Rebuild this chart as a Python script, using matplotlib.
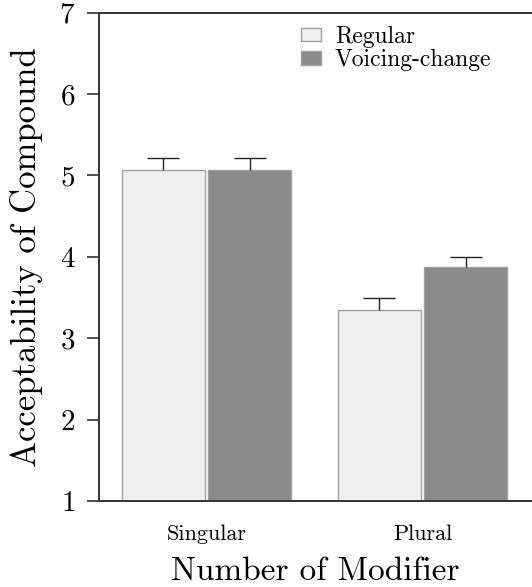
import numpy as np
import matplotlib
matplotlib.use("Agg")
import matplotlib.pyplot as plt

plt.rcParams['font.family'] = 'cmr10'
plt.rcParams['axes.formatter.use_mathtext'] = True

# values
groups = ['Singular', 'Plural']
series = ['Regular', 'Voicing-change']
regular = [5.07, 3.35]
voicing = [5.07, 3.87]
regular_se = [0.14, 0.14]
voicing_se = [0.14, 0.13]
colors = ['#f0f0f0', '#8a8a8a']

fig = plt.figure(figsize=(5.32, 5.87), dpi=100)
ax = fig.add_axes([0.186, 0.1465, 0.814, 0.832])

x = np.arange(len(groups))
w = 0.384
off = 0.2
for vals, errs, col, lab, sgn in [(regular, regular_se, colors[0], series[0], -1),
                                  (voicing, voicing_se, colors[1], series[1], 1)]:
    ax.bar(x + sgn * off, np.array(vals) - 1, width=w, bottom=1, color=col,
           edgecolor='#a0a0a0', linewidth=1.0, label=lab, zorder=2)
    eb = ax.errorbar(x + sgn * off, vals, yerr=[np.zeros(len(errs)), errs], fmt='none',
                     ecolor='#222222', elinewidth=1.0, capsize=11.5, capthick=1.0, zorder=3)
    # only the upper cap is shown in the reference
    for cap in eb[1]:
        if np.allclose(cap.get_ydata(), vals):
            cap.set_visible(False)

ax.set_xlim(-0.498, 1.507)
ax.set_ylim(1, 7)
ax.set_yticks(range(1, 8))
ax.set_xticks(x)
ax.set_xticklabels(groups, fontsize=16)
ax.tick_params(axis='x', length=0, pad=17)
ax.tick_params(axis='y', length=9, width=1.2, pad=8, labelsize=21, color='#333333')
ax.spines['right'].set_visible(False)
for s in ['left', 'bottom', 'top']:
    ax.spines[s].set_linewidth(1.4)
    ax.spines[s].set_color('#333333')

ax.set_ylabel('Acceptability of Compound', fontsize=25, labelpad=12)
ax.set_xlabel('Number of Modifier', fontsize=24, labelpad=9)

ax.legend(loc='upper left', bbox_to_anchor=(0.565, 0.956), bbox_transform=fig.transFigure,
          frameon=False, fontsize=17, handlelength=0.85, handleheight=0.5,
          handletextpad=0.6, labelspacing=0.05, borderpad=0, borderaxespad=0)

fig.savefig('out.png', dpi=100)
